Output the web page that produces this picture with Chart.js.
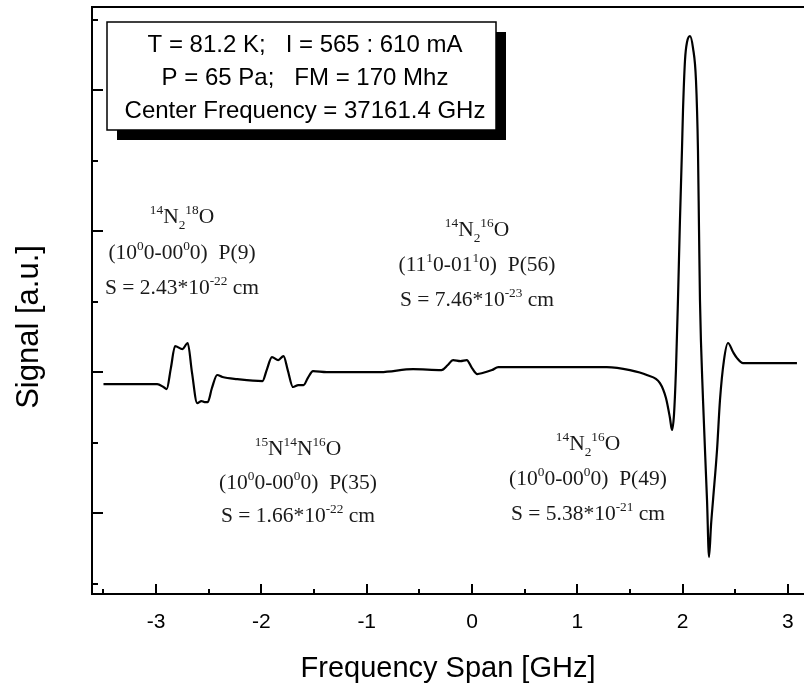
<!DOCTYPE html>
<html>
<head>
<meta charset="utf-8">
<script src="https://cdn.jsdelivr.net/npm/chart.js@4"></script>
<style>
  html, body { margin: 0; padding: 0; background: #fff; }
  canvas { display: block; }
</style>
</head>
<body>
<canvas id="spectrum" width="804" height="686"></canvas>
<script>
// Trace: frequency offset (GHz) and signal (a.u.)
const freqGHz = [
  -3.50, -2.99, -2.93, -2.90, -2.86, -2.82, -2.75, -2.70, -2.66, -2.61,
  -2.57, -2.54, -2.51, -2.47, -2.42, -2.37, -2.23, -1.99, -1.95, -1.90,
  -1.84, -1.79, -1.75, -1.70, -1.65, -1.60, -1.56, -1.51, -1.38, -0.87,
  -0.56, -0.29, -0.23, -0.18, -0.11, -0.05, 0.00, 0.05, 0.10, 0.19,
  0.25, 0.84, 1.28, 1.50, 1.66, 1.785, 1.842, 1.880, 1.899, 1.918,
  1.937, 1.956, 1.975, 1.994, 2.004, 2.023, 2.042, 2.070, 2.099, 2.127,
  2.146, 2.156, 2.165, 2.194, 2.232, 2.251, 2.270, 2.289, 2.327, 2.355,
  2.393, 2.431, 2.479, 2.517, 2.574, 3.086
];
const signal = [
  -0.085, -0.085, -0.106, -0.121, 0.028, 0.184, 0.163, 0.206, 0.000, -0.220,
  -0.206, -0.213, -0.213, -0.113, -0.021, -0.035, -0.050, -0.064, 0.014, 0.106,
  0.085, 0.113, 0.014, -0.106, -0.092, -0.092, -0.043, 0.007, 0.000, 0.000,
  0.021, 0.014, 0.050, 0.085, 0.078, 0.085, 0.028, -0.014, -0.007, 0.014,
  0.035, 0.035, 0.035, 0.014, -0.021, -0.078, -0.184, -0.326, -0.411, -0.305,
  0.014, 0.511, 1.078, 1.574, 1.858, 2.213, 2.340, 2.383, 2.298, 2.071,
  1.574, 1.007, 0.511, -0.199, -0.908, -1.312, -1.085, -0.908, -0.553, -0.199,
  0.085, 0.206, 0.142, 0.099, 0.064, 0.064
];

// Axis ranges and texts
const xRange = [-3.609, 3.153];
const yRange = [-1.574, 2.589];
const xTitle = 'Frequency Span [GHz]';
const yTitle = 'Signal [a.u.]';

// Box in the upper left
const boxLines = [
  'T = 81.2 K;   I = 565 : 610 mA',
  'P = 65 Pa;   FM = 170 Mhz',
  'Center Frequency = 37161.4 GHz'
];

// Line labels: ^{..} superscript, _{..} subscript
const lineLabels = [
  ['^{14}N_{2}^{18}O', '(10^{0}0-00^{0}0)  P(9)', 'S = 2.43*10^{-22} cm'],
  ['^{14}N_{2}^{16}O', '(11^{1}0-01^{1}0)  P(56)', 'S = 7.46*10^{-23} cm'],
  ['^{15}N^{14}N^{16}O', '(10^{0}0-00^{0}0)  P(35)', 'S = 1.66*10^{-22} cm'],
  ['^{14}N_{2}^{16}O', '(10^{0}0-00^{0}0)  P(49)', 'S = 5.38*10^{-21} cm']
];
// centre x of each label and baseline of each of its lines (px)
const labelCentres = [182, 477, 298, 588];
const labelBaselines = [[223, 259, 294], [236, 271, 306], [455, 489, 522], [450, 485, 520]];

const sans = '"Liberation Sans", Arial, sans-serif';
const serif = '"Liberation Serif", "Times New Roman", serif';

const isWhole = v => Math.abs(v - Math.round(v)) < 1e-6;

function parseRich(str) {
  const segs = [];
  const re = /([\^_])\{([^}]*)\}|([^\^_]+)/g;
  let m;
  while ((m = re.exec(str)) !== null) {
    if (m[1]) segs.push({ text: m[2], kind: m[1] === '^' ? 'sup' : 'sub' });
    else segs.push({ text: m[3], kind: null });
  }
  return segs;
}

function drawRich(ctx, str, cx, by, size) {
  const small = size * 0.62;
  const parts = parseRich(str).map(p => {
    const fs = p.kind ? small : size;
    ctx.font = fs + 'px ' + serif;
    return Object.assign(p, { fs, w: ctx.measureText(p.text).width });
  });
  const total = parts.reduce((s, p) => s + p.w, 0);
  let x = cx - total / 2;
  parts.forEach(p => {
    ctx.font = p.fs + 'px ' + serif;
    let dy = 0;
    if (p.kind === 'sup') dy = -size * 0.4;
    if (p.kind === 'sub') dy = size * 0.3;
    ctx.fillText(p.text, x, by + dy);
    x += p.w;
  });
}

const decorations = {
  id: 'decorations',
  afterDraw(chart) {
    const { ctx, chartArea: a, scales: { x, y } } = chart;
    ctx.save();
    ctx.strokeStyle = '#000';
    ctx.lineWidth = 2;

    // top frame line
    ctx.beginPath();
    ctx.moveTo(a.left - 1, a.top);
    ctx.lineTo(chart.width, a.top);
    ctx.stroke();

    // inward tick marks
    ctx.beginPath();
    x.ticks.forEach(t => {
      const px = Math.round(x.getPixelForValue(t.value));
      const len = isWhole(t.value) ? 10 : 5;
      ctx.moveTo(px, a.bottom);
      ctx.lineTo(px, a.bottom - len);
    });
    y.ticks.forEach(t => {
      const py = Math.round(y.getPixelForValue(t.value));
      const len = isWhole(t.value) ? 11 : 6;
      ctx.moveTo(a.left, py);
      ctx.lineTo(a.left + len, py);
    });
    ctx.stroke();

    // y axis title
    ctx.save();
    ctx.translate(38, 327);
    ctx.rotate(-Math.PI / 2);
    ctx.fillStyle = '#000';
    ctx.font = '31px ' + sans;
    ctx.textAlign = 'center';
    ctx.textBaseline = 'alphabetic';
    ctx.fillText(yTitle, 0, 0);
    ctx.restore();

    // parameter box with shadow
    const bx = 107, by = 22, bw = 389, bh = 108;
    ctx.fillStyle = '#000';
    ctx.fillRect(bx + 10, by + 10, bw, bh);
    ctx.fillStyle = '#fff';
    ctx.fillRect(bx, by, bw, bh);
    ctx.lineWidth = 1.5;
    ctx.strokeRect(bx, by, bw, bh);
    ctx.fillStyle = '#000';
    ctx.font = '24px ' + sans;
    ctx.textAlign = 'center';
    ctx.textBaseline = 'alphabetic';
    boxLines.forEach((line, i) => ctx.fillText(line, 305, 52 + i * 33));

    // line labels
    ctx.fillStyle = '#1a1a1a';
    ctx.textAlign = 'left';
    lineLabels.forEach((lines, i) => {
      lines.forEach((line, j) => drawRich(ctx, line, labelCentres[i], labelBaselines[i][j], 21.5));
    });
    ctx.restore();
  }
};

const points = freqGHz.map((f, i) => ({ x: f, y: signal[i] }));

new Chart(document.getElementById('spectrum'), {
  type: 'line',
  data: {
    datasets: [{
      data: points,
      borderColor: '#000',
      borderWidth: 2.2,
      pointRadius: 0,
      fill: false,
      cubicInterpolationMode: 'monotone'
    }]
  },
  options: {
    responsive: false,
    animation: false,
    devicePixelRatio: 1,
    layout: { padding: { top: 7, right: 0, bottom: 0, left: 0 } },
    plugins: { legend: { display: false }, tooltip: { enabled: false } },
    scales: {
      x: {
        type: 'linear',
        min: xRange[0],
        max: xRange[1],
        grid: { display: false, drawTicks: false },
        border: { display: true, color: '#000', width: 2 },
        ticks: {
          stepSize: 0.5,
          includeBounds: false,
          autoSkip: false,
          maxRotation: 0,
          padding: 16,
          color: '#000',
          font: { family: sans, size: 21 },
          callback: v => isWhole(v) ? String(Math.round(v)) : ''
        },
        title: {
          display: true,
          text: xTitle,
          color: '#000',
          font: { family: sans, size: 29 },
          padding: { top: 0, bottom: 0 }
        },
        afterFit: s => { s.height = 92; s.paddingLeft = 0; s.paddingRight = 0; }
      },
      y: {
        min: yRange[0],
        max: yRange[1],
        grid: { display: false, drawTicks: false },
        border: { display: true, color: '#000', width: 2 },
        ticks: { display: false, stepSize: 0.5, includeBounds: false },
        afterFit: s => { s.width = 92; s.paddingTop = 0; s.paddingBottom = 0; }
      }
    }
  },
  plugins: [decorations]
});
</script>
</body>
</html>
